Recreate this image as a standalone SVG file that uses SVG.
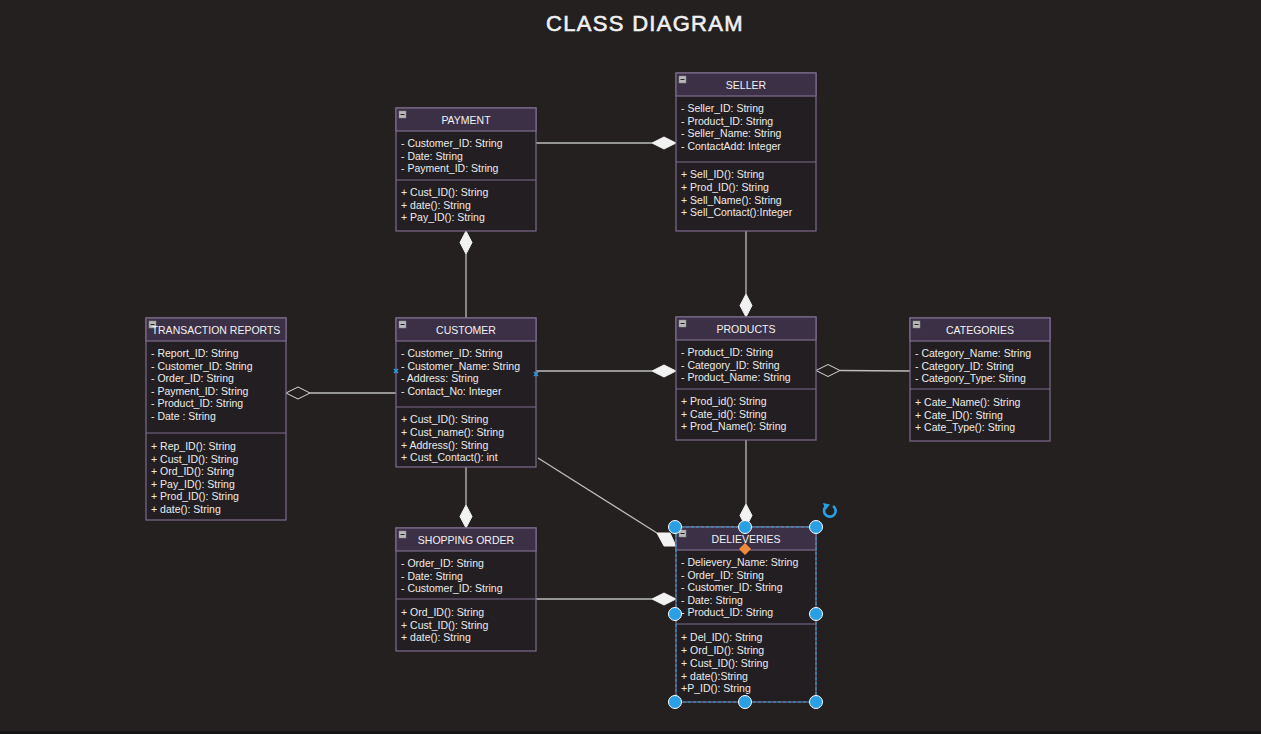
<svg xmlns="http://www.w3.org/2000/svg" width="1261" height="734" viewBox="0 0 1261 734">
<style>
.bg{fill:#252020}
.box{fill:#231e21;stroke:#7d6c8e;stroke-width:1.2}
.hdr{fill:#3b3046;stroke:#7d6c8e;stroke-width:1.2}
.div{stroke:#7d6c8e;stroke-width:1.2}
.t{font-family:"Liberation Sans",Arial,sans-serif;font-size:10.5px;fill:#ececec}
.h{font-family:"Liberation Sans",Arial,sans-serif;font-size:10.5px;fill:#f2f2f2;text-anchor:middle}
.title{font-family:"Liberation Sans",Arial,sans-serif;font-size:22px;fill:#f0f0f0;stroke:#f0f0f0;stroke-width:0.6;text-anchor:middle;letter-spacing:1.3px}
.ln{stroke:#bdbdbd;stroke-width:1.3;fill:none}
.fd{fill:#f2f2f2;stroke:#f2f2f2;stroke-width:1}
.hd{fill:#252020;stroke:#d8d8d8;stroke-width:1}
.mi{fill:#b8b8b8;stroke:#8a8a8a;stroke-width:0.5}
.mil{stroke:#222;stroke-width:1}
.hand{fill:#2b9fe3;stroke:#ffffff;stroke-width:1}
</style>
<defs>
<g id="minus"><rect class="mi" x="0" y="0" width="7" height="7"/><line class="mil" x1="1.5" y1="3.5" x2="5.5" y2="3.5"/></g>
</defs>
<rect class="bg" x="0" y="0" width="1261" height="734"/>
<rect x="0" y="731" width="1261" height="3" fill="#141414"/>
<text class="title" x="645" y="31">CLASS DIAGRAM</text>

<g id="connectors">
  <line class="ln" x1="536" y1="143" x2="652" y2="143"/>
  <polygon class="fd" points="676,143 664,137 652,143 664,149"/>
  <line class="ln" x1="466" y1="254" x2="466" y2="318"/>
  <polygon class="fd" points="466,231 472,242.5 466,254 460,242.5"/>
  <line class="ln" x1="746" y1="231" x2="746" y2="294"/>
  <polygon class="fd" points="746,317 752,305.5 746,294 740,305.5"/>
  <line class="ln" x1="536" y1="371" x2="652" y2="371"/>
  <polygon class="fd" points="676,371 664,365 652,371 664,377"/>
  <line class="ln" x1="840" y1="370.5" x2="910" y2="371"/>
  <polygon class="hd" points="816,370.5 828,364.5 840,370.5 828,376.5"/>
  <line class="ln" x1="310" y1="393" x2="396" y2="393"/>
  <polygon class="hd" points="286,393 298,387 310,393 298,399"/>
  <line class="ln" x1="466" y1="467" x2="466" y2="505"/>
  <polygon class="fd" points="466,528 472,516.5 466,505 460,516.5"/>
  <line class="ln" x1="746" y1="440" x2="746" y2="504"/>
  <polygon class="fd" points="746,527 752,515.5 746,504 740,515.5"/>
  <line class="ln" x1="538" y1="458" x2="657" y2="533"/>
  <polygon class="fd" points="657,533 670,533 676,546 664,546"/>
  <line class="ln" x1="536" y1="599" x2="652" y2="599"/>
  <polygon class="fd" points="676,599 664,593 652,599 664,605"/>
</g>

<g id="payment">
  <rect class="box" x="396" y="108" width="140" height="123"/>
  <rect class="hdr" x="396" y="108" width="140" height="23"/>
  <use href="#minus" x="399" y="111"/>
  <text class="h" x="466" y="124">PAYMENT</text>
  <text class="t" x="401" y="147">- Customer_ID: String</text>
  <text class="t" x="401" y="159.5">- Date: String</text>
  <text class="t" x="401" y="172">- Payment_ID: String</text>
  <line class="div" x1="396" y1="180" x2="536" y2="180"/>
  <text class="t" x="401" y="196">+ Cust_ID(): String</text>
  <text class="t" x="401" y="208.5">+ date(): String</text>
  <text class="t" x="401" y="221">+ Pay_ID(): String</text>
</g>

<g id="seller">
  <rect class="box" x="676" y="73" width="140" height="158"/>
  <rect class="hdr" x="676" y="73" width="140" height="23"/>
  <use href="#minus" x="679" y="76"/>
  <text class="h" x="746" y="89">SELLER</text>
  <text class="t" x="681" y="112">- Seller_ID: String</text>
  <text class="t" x="681" y="124.5">- Product_ID: String</text>
  <text class="t" x="681" y="137">- Seller_Name: String</text>
  <text class="t" x="681" y="149.5">- ContactAdd: Integer</text>
  <line class="div" x1="676" y1="162" x2="816" y2="162"/>
  <text class="t" x="681" y="178">+ Sell_ID(): String</text>
  <text class="t" x="681" y="191">+ Prod_ID(): String</text>
  <text class="t" x="681" y="203.5">+ Sell_Name(): String</text>
  <text class="t" x="681" y="216">+ Sell_Contact():Integer</text>
</g>

<g id="transaction-reports">
  <rect class="box" x="146" y="318" width="140" height="202"/>
  <rect class="hdr" x="146" y="318" width="140" height="23"/>
  <use href="#minus" x="149" y="321"/>
  <text class="h" x="216" y="334">TRANSACTION REPORTS</text>
  <text class="t" x="151" y="357">- Report_ID: String</text>
  <text class="t" x="151" y="369.5">- Customer_ID: String</text>
  <text class="t" x="151" y="382">- Order_ID: String</text>
  <text class="t" x="151" y="394.5">- Payment_ID: String</text>
  <text class="t" x="151" y="407">- Product_ID: String</text>
  <text class="t" x="151" y="420">- Date : String</text>
  <line class="div" x1="146" y1="433" x2="286" y2="433"/>
  <text class="t" x="151" y="450">+ Rep_ID(): String</text>
  <text class="t" x="151" y="462.5">+ Cust_ID(): String</text>
  <text class="t" x="151" y="475">+ Ord_ID(): String</text>
  <text class="t" x="151" y="487.5">+ Pay_ID(): String</text>
  <text class="t" x="151" y="500">+ Prod_ID(): String</text>
  <text class="t" x="151" y="513">+ date(): String</text>
</g>

<g id="customer">
  <rect class="box" x="396" y="318" width="140" height="149"/>
  <rect class="hdr" x="396" y="318" width="140" height="23"/>
  <use href="#minus" x="399" y="321"/>
  <text class="h" x="466" y="334">CUSTOMER</text>
  <text class="t" x="401" y="357">- Customer_ID: String</text>
  <text class="t" x="401" y="369.5">- Customer_Name: String</text>
  <text class="t" x="401" y="382">- Address: String</text>
  <text class="t" x="401" y="394.5">- Contact_No: Integer</text>
  <line class="div" x1="396" y1="407" x2="536" y2="407"/>
  <text class="t" x="401" y="423">+ Cust_ID(): String</text>
  <text class="t" x="401" y="436">+ Cust_name(): String</text>
  <text class="t" x="401" y="448.5">+ Address(): String</text>
  <text class="t" x="401" y="461">+ Cust_Contact(): int</text>
  <path d="M394,369 l4,4 M398,369 l-4,4" stroke="#2b9fe3" stroke-width="1.6"/>
  <path d="M534,372 l4,4 M538,372 l-4,4" stroke="#2b9fe3" stroke-width="1.6"/>
</g>

<g id="products">
  <rect class="box" x="676" y="317" width="140" height="123"/>
  <rect class="hdr" x="676" y="317" width="140" height="23"/>
  <use href="#minus" x="679" y="320"/>
  <text class="h" x="746" y="333">PRODUCTS</text>
  <text class="t" x="681" y="356">- Product_ID: String</text>
  <text class="t" x="681" y="368.5">- Category_ID: String</text>
  <text class="t" x="681" y="381">- Product_Name: String</text>
  <line class="div" x1="676" y1="389" x2="816" y2="389"/>
  <text class="t" x="681" y="405">+ Prod_id(): String</text>
  <text class="t" x="681" y="417.5">+ Cate_id(): String</text>
  <text class="t" x="681" y="430">+ Prod_Name(): String</text>
</g>

<g id="categories">
  <rect class="box" x="910" y="318" width="140" height="123"/>
  <rect class="hdr" x="910" y="318" width="140" height="23"/>
  <use href="#minus" x="913" y="321"/>
  <text class="h" x="980" y="334">CATEGORIES</text>
  <text class="t" x="915" y="357">- Category_Name: String</text>
  <text class="t" x="915" y="369.5">- Category_ID: String</text>
  <text class="t" x="915" y="382">- Category_Type: String</text>
  <line class="div" x1="910" y1="389" x2="1050" y2="389"/>
  <text class="t" x="915" y="406">+ Cate_Name(): String</text>
  <text class="t" x="915" y="418.5">+ Cate_ID(): String</text>
  <text class="t" x="915" y="431">+ Cate_Type(): String</text>
</g>

<g id="shopping-order">
  <rect class="box" x="396" y="528" width="140" height="123"/>
  <rect class="hdr" x="396" y="528" width="140" height="23"/>
  <use href="#minus" x="399" y="531"/>
  <text class="h" x="466" y="544">SHOPPING ORDER</text>
  <text class="t" x="401" y="567">- Order_ID: String</text>
  <text class="t" x="401" y="579.5">- Date: String</text>
  <text class="t" x="401" y="592">- Customer_ID: String</text>
  <line class="div" x1="396" y1="599" x2="536" y2="599"/>
  <text class="t" x="401" y="616">+ Ord_ID(): String</text>
  <text class="t" x="401" y="628.5">+ Cust_ID(): String</text>
  <text class="t" x="401" y="641">+ date(): String</text>
</g>

<g id="delieveries">
  <rect class="box" x="676" y="527" width="140" height="175"/>
  <rect class="hdr" x="676" y="527" width="140" height="23"/>
  <use href="#minus" x="679" y="530"/>
  <text class="h" x="746" y="543">DELIEVERIES</text>
  <text class="t" x="681" y="566">- Delievery_Name: String</text>
  <text class="t" x="681" y="578.5">- Order_ID: String</text>
  <text class="t" x="681" y="591">- Customer_ID: String</text>
  <text class="t" x="681" y="604">- Date: String</text>
  <text class="t" x="681" y="616">- Product_ID: String</text>
  <line class="div" x1="676" y1="624" x2="816" y2="624"/>
  <text class="t" x="681" y="641">+ Del_ID(): String</text>
  <text class="t" x="681" y="654">+ Ord_ID(): String</text>
  <text class="t" x="681" y="667">+ Cust_ID(): String</text>
  <text class="t" x="681" y="679.5">+ date():String</text>
  <text class="t" x="681" y="692">+P_ID(): String</text>
  <rect x="676" y="527" width="140" height="175" fill="none" stroke="#2b9fe3" stroke-width="1" stroke-dasharray="3,2"/>
  <polygon points="745,543 751,549 745,555 739,549" fill="#f08a3c"/>
  <circle class="hand" cx="675" cy="527" r="6.5"/>
  <circle class="hand" cx="745" cy="527" r="6.5"/>
  <circle class="hand" cx="816" cy="527" r="6.5"/>
  <circle class="hand" cx="675" cy="614" r="6.5"/>
  <circle class="hand" cx="816" cy="614" r="6.5"/>
  <circle class="hand" cx="675" cy="702" r="6.5"/>
  <circle class="hand" cx="745" cy="702" r="6.5"/>
  <circle class="hand" cx="816" cy="702" r="6.5"/>
  <path d="M833,506 A5.8,5.8 0 1 1 826,506.5" fill="none" stroke="#2b9fe3" stroke-width="2.6"/>
  <polygon points="823,503 830,504.5 825.5,510" fill="#2b9fe3"/>
</g>
</svg>
